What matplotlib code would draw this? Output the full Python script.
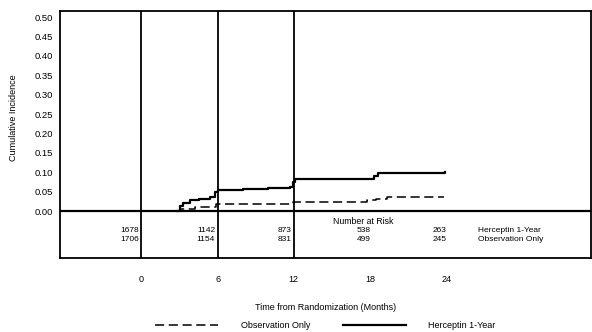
import matplotlib
matplotlib.use("Agg")
import matplotlib.pyplot as plt
from matplotlib.lines import Line2D

plt.rcParams['font.family'] = ['Liberation Sans Narrow', 'Liberation Sans', 'DejaVu Sans']

# Herceptin 1-Year curve (months, cumulative incidence)
herc_t = [2.8, 3.0, 3.3, 3.8, 4.5, 5.4, 5.8, 6.0, 8.0, 10.0, 11.7, 11.9, 12.1,
          15.0, 18.0, 18.3, 18.6, 21.0, 23.9]
herc_y = [0.000, 0.012, 0.021, 0.028, 0.031, 0.036, 0.049, 0.054, 0.057, 0.059,
          0.062, 0.075, 0.082, 0.082, 0.083, 0.090, 0.098, 0.099, 0.100]

# Observation Only curve
obs_t = [2.8, 3.0, 4.2, 5.9, 11.9, 17.8, 18.5, 19.3, 23.8]
obs_y = [0.000, 0.006, 0.010, 0.017, 0.024, 0.028, 0.031, 0.037, 0.037]

# number at risk table
risk_months = [0, 6, 12, 18, 24]
herc_risk = [1678, 1142, 873, 538, 263]
obs_risk = [1706, 1154, 831, 499, 245]
yticks = [0.00, 0.05, 0.10, 0.15, 0.20, 0.25, 0.30, 0.35, 0.40, 0.45, 0.50]

fig = plt.figure(figsize=(5.92, 3.32), dpi=100)
ax = fig.add_axes([60 / 592, 1 - 258 / 332, 531 / 592, 247 / 332])

ax.set_xlim(-6.41, 35.4)
ax.set_ylim(-0.121, 0.5155)

ax.step(herc_t, herc_y, where='post', color='black', lw=1.6)
ax.step(obs_t, obs_y, where='post', color='black', lw=1.1, dashes=(6, 3))

# table separators and zero line
for m in risk_months[:3]:
    ax.axvline(m, color='black', lw=1.3)
ax.axhline(0, color='black', lw=1.6)

fs = 6
ax.text(17.5, -0.026, 'Number at Risk', ha='center', va='center', fontsize=6.3)
for i, m in enumerate(risk_months):
    if i < 3:
        x, ha = m - 0.2, 'right'
    else:
        x, ha = m - 0.5, 'center'
    ax.text(x, -0.051, str(herc_risk[i]), ha=ha, va='center', fontsize=fs)
    ax.text(x, -0.073, str(obs_risk[i]), ha=ha, va='center', fontsize=fs)
ax.text(26.5, -0.051, 'Herceptin 1-Year', ha='left', va='center', fontsize=fs)
ax.text(26.5, -0.073, 'Observation Only', ha='left', va='center', fontsize=fs)

ax.set_yticks(yticks)
ax.set_yticklabels([f'{v:.2f}' for v in yticks])
ax.set_xticks(risk_months)
ax.set_xticklabels([str(m) for m in risk_months])
ax.tick_params(axis='y', length=0, pad=5, labelsize=6.8)
ax.tick_params(axis='x', length=0, pad=12, labelsize=6.5)
for s in ax.spines.values():
    s.set_linewidth(1.3)

ax.set_xlabel('Time from Randomization (Months)', fontsize=6.5, labelpad=14)
fig.text(14 / 592, 1 - 118 / 332, 'Cumulative Incidence', rotation=90,
         ha='center', va='center', fontsize=6.5)

handles = [Line2D([], [], color='black', lw=1.1, dashes=(6, 3)),
           Line2D([], [], color='black', lw=1.6)]
fig.legend(handles, ['Observation Only', 'Herceptin 1-Year'], ncol=2,
           loc='center left', bbox_to_anchor=(155 / 592, 1 - 326 / 332),
           frameon=False, fontsize=6.5, handlelength=7, handletextpad=2.5,
           columnspacing=3.6, borderpad=0, borderaxespad=0)

fig.savefig('out.png', dpi=100)
